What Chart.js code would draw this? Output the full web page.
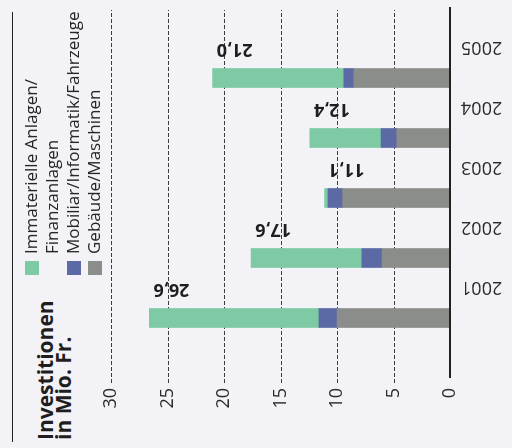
<!DOCTYPE html>
<html>
<head>
<meta charset="utf-8">
<script src="https://cdn.jsdelivr.net/npm/chart.js@4"></script>
<style>
  html, body { margin: 0; padding: 0; background: #f3f2f6; overflow: hidden; }
  /* the page is laid out upright (448 x 512) and turned a quarter turn */
  #page {
    position: absolute; left: 0; top: 0; width: 448px; height: 512px;
    transform-origin: 0 0; transform: translate(0, 448px) rotate(-90deg);
    background: #f3f2f6; font-family: "Open Sans", sans-serif; color: #222;
  }
  #rule { position: absolute; left: 6px; top: 12px; width: 430px; border-top: 1.5px solid #222; }
  .title { position: absolute; left: 8px; font-weight: 700; font-size: 21px; line-height: 21px; white-space: nowrap; color: #1e1e1e; }
  #legend { position: absolute; left: 173px; top: 20px; font-size: 17px; line-height: 21px; font-weight: 400; color: #262626; }
  .item { position: relative; padding-left: 21px; white-space: pre; }
  .sw { position: absolute; left: 0; top: 5px; width: 14px; height: 14px; }
  canvas { position: absolute; left: 0; top: 0; }
</style>
</head>
<body>
<div id="page">
  <div id="rule"></div>
  <div class="title" style="top:35px">Investitionen</div>
  <div class="title" style="top:53px">in Mio. Fr.</div>
  <canvas id="chart" width="448" height="512"></canvas>
  <div id="legend"></div>
</div>
<script>
// Investitionen in Mio. Fr., stacked per year
const years = ['2001', '2002', '2003', '2004', '2005'];
const gebaeudeMaschinen = [10.0, 6.0, 9.5, 4.7, 8.5];
const mobiliarInformatik = [1.6, 1.8, 1.3, 1.4, 0.9];
const immaterielleAnlagen = [15.0, 9.8, 0.3, 6.3, 11.6];
const valueTicks = [0, 5, 10, 15, 20, 25, 30];
const seriesNames = ['Gebäude/Maschinen', 'Mobiliar/Informatik/Fahrzeuge', 'Immaterielle Anlagen/\nFinanzanlagen'];
const seriesColors = ['#8b8d8a', '#5b6aa5', '#7dcaa5'];

const seriesData = [gebaeudeMaschinen, mobiliarInformatik, immaterielleAnlagen];

// dashed value lines reaching past the plot on both sides, plus the solid base line
const valueGrid = {
  id: 'valueGrid',
  beforeDatasetsDraw(chart) {
    const { ctx, chartArea, scales: { y } } = chart;
    ctx.save();
    ctx.strokeStyle = '#3c3c3c';
    ctx.lineWidth = 1;
    ctx.setLineDash([4, 2]);
    y.ticks.forEach(t => {
      if (t.value === 0) return;
      const py = Math.round(y.getPixelForValue(t.value)) + 0.5;
      ctx.beginPath();
      ctx.moveTo(chartArea.left - 35, py);
      ctx.lineTo(chartArea.right + 38, py);
      ctx.stroke();
    });
    ctx.restore();
  },
  afterDatasetsDraw(chart) {
    const { ctx, chartArea, scales: { y } } = chart;
    const py = y.getPixelForValue(0);
    ctx.save();
    ctx.strokeStyle = '#222';
    ctx.lineWidth = 2;
    ctx.beginPath();
    ctx.moveTo(chartArea.left - 30, py);
    ctx.lineTo(chartArea.right + 41, py);
    ctx.stroke();
    ctx.restore();
  }
};

// year totals written beside each bar, reading upward
const totalLabels = {
  id: 'totalLabels',
  afterDatasetsDraw(chart) {
    const { ctx, scales: { y } } = chart;
    const last = chart.getDatasetMeta(chart.data.datasets.length - 1);
    ctx.save();
    ctx.font = '700 18px "Open Sans"';
    ctx.fillStyle = '#1e1e1e';
    ctx.textAlign = 'right';
    ctx.textBaseline = 'middle';
    years.forEach((yr, i) => {
      const total = chart.data.datasets.reduce((s, ds) => s + ds.data[i], 0);
      const bar = last.data[i];
      ctx.save();
      ctx.translate(bar.x + 29, y.getPixelForValue(total) + 4);
      ctx.rotate(-Math.PI / 2);
      ctx.fillText(total.toFixed(1).replace('.', ','), 0, 0);
      ctx.restore();
    });
    ctx.restore();
  }
};

const chart = new Chart(document.getElementById('chart'), {
  type: 'bar',
  data: {
    labels: years,
    datasets: seriesData.map((d, i) => ({
      label: seriesNames[i],
      data: d,
      backgroundColor: seriesColors[i],
      borderWidth: 0,
      barThickness: 19,
      stack: 'invest'
    }))
  },
  options: {
    responsive: false,
    animation: false,
    events: [],
    layout: { padding: { left: 40, right: 48, top: 111, bottom: 0 } },
    plugins: { legend: { display: false }, tooltip: { enabled: false } },
    scales: {
      x: {
        stacked: true,
        offset: true,
        grid: { display: false, drawTicks: false },
        border: { display: false },
        ticks: {
          autoSkip: false, minRotation: 90, maxRotation: 90,
          labelOffset: 31, padding: 11, color: '#2a2a2a',
          font: { family: 'Open Sans', size: 18, weight: '400' }
        },
        afterFit: s => { s.height = 62; }
      },
      y: {
        stacked: true,
        min: 0, max: 30,
        afterBuildTicks: s => { s.ticks = valueTicks.map(v => ({ value: v })); },
        grid: { display: false, drawTicks: false },
        border: { display: false },
        ticks: {
          padding: 40, color: '#2a2a2a',
          font: { family: 'Open Sans', size: 18, weight: '400' }
        },
        afterFit: s => { s.width = 60; }
      }
    }
  },
  plugins: [valueGrid, totalLabels]
});

// legend, top entry first
const legend = document.getElementById('legend');
[2, 1, 0].forEach(i => {
  const item = document.createElement('div');
  item.className = 'item';
  const sw = document.createElement('span');
  sw.className = 'sw';
  sw.style.background = seriesColors[i];
  item.appendChild(sw);
  item.appendChild(document.createTextNode(seriesNames[i]));
  legend.appendChild(item);
});
</script>
</body>
</html>
